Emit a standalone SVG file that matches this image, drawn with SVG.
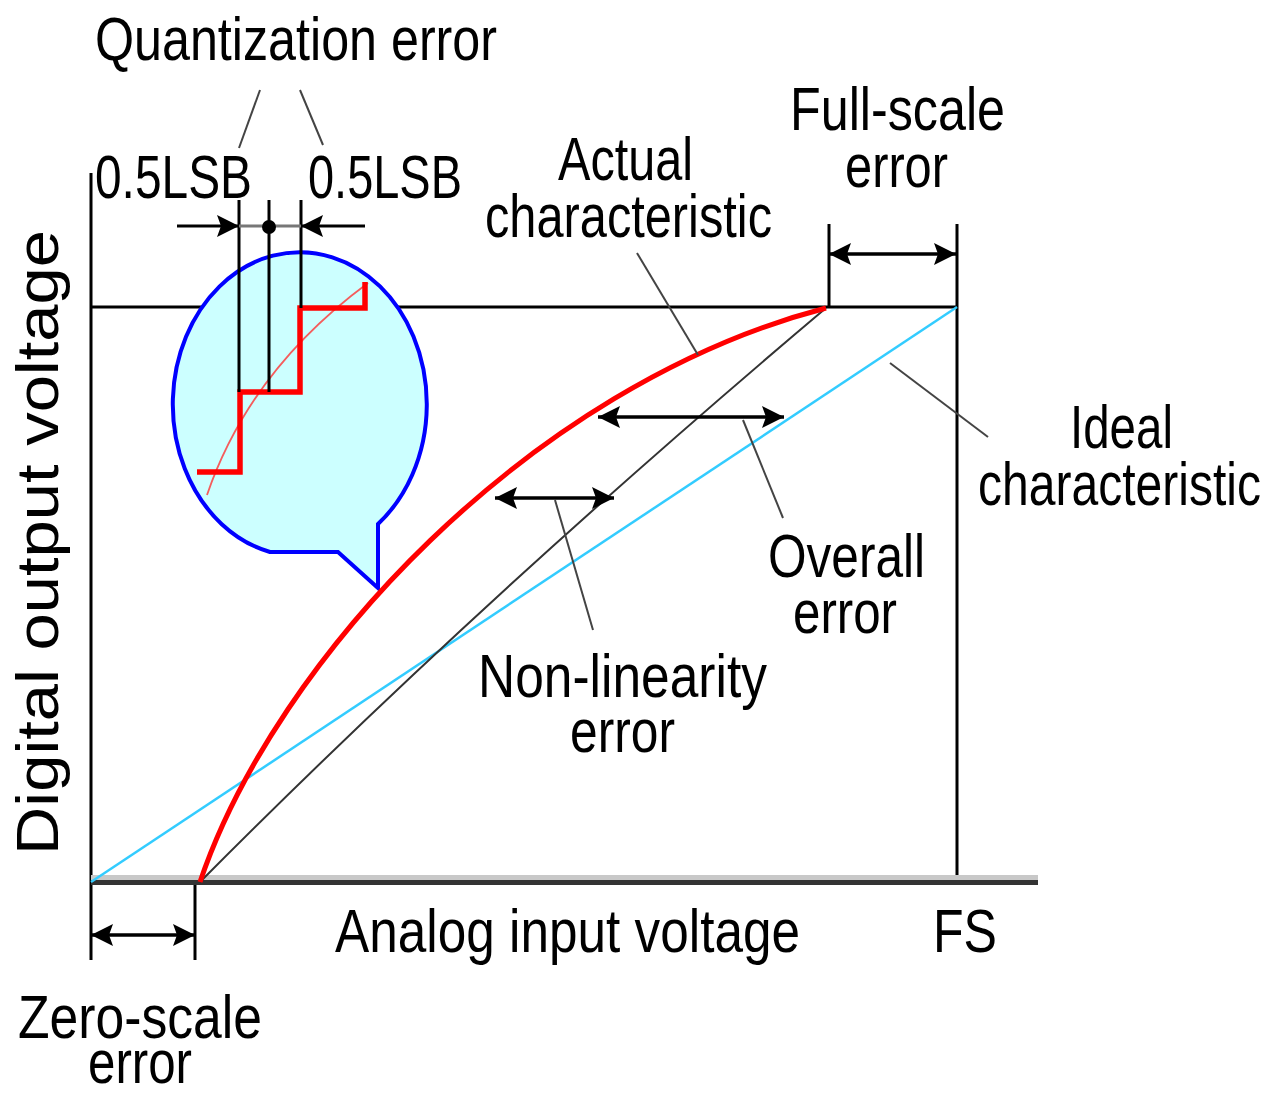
<svg xmlns="http://www.w3.org/2000/svg" width="1274" height="1096" viewBox="0 0 1274 1096">
<style>
.t{font-family:"Liberation Sans",Arial,sans-serif;font-size:62px;fill:#000}
.ax{stroke:#000;stroke-width:3;fill:none}
.ld{stroke:#444;stroke-width:2;fill:none}
.ar{stroke:#000;stroke-width:3.5;fill:none;marker-end:url(#ah);marker-start:url(#ah)}
.ar1{stroke:#000;stroke-width:3;fill:none;marker-end:url(#ah)}
</style>
<defs>
<marker id="ah" viewBox="-23 -12 24 24" refX="0" refY="0" markerWidth="24" markerHeight="24" markerUnits="userSpaceOnUse" orient="auto-start-reverse">
<path d="M0,0 L-22,-11 L-18,0 L-22,11 Z" fill="#000"/>
</marker>
</defs>
<rect width="1274" height="1096" fill="#fff"/>

<g id="axes">
<line class="ax" x1="91" y1="173" x2="91" y2="960"/>
<line class="ax" x1="91" y1="307" x2="957" y2="307"/>
<line class="ax" x1="957" y1="224" x2="957" y2="883"/>
<line class="ax" x1="829" y1="224" x2="829" y2="307"/>
<line class="ax" x1="195" y1="882" x2="195" y2="960"/>
<line x1="91" y1="877.5" x2="1038" y2="877.5" stroke="#c8c8c8" stroke-width="5"/>
<line x1="91" y1="882.5" x2="1038" y2="882.5" stroke="#333" stroke-width="5"/>
</g>

<g id="ideal-line">
<line x1="91" y1="882" x2="957" y2="307" stroke="#33ccff" stroke-width="2.5"/>
</g>
<g id="endpoint-line">
<path d="M200,882 Q480,600 826,308" stroke="#333" stroke-width="2" fill="none"/>
</g>

<g id="bubble">
<path d="M378,524 A127,152 0 1 0 270,552 L338,552 L378,588 Z" fill="#ccffff" stroke="#0000ff" stroke-width="4" stroke-linejoin="miter"/>
<path d="M207,495 Q250,370 368,283" stroke="#ff3333" stroke-width="1.8" fill="none" opacity="0.8"/>
<path d="M197,472 L240,472 L240,392 L300,392 L300,308 L365,308 L365,282" stroke="#ff0000" stroke-width="5.5" fill="none"/>
<line class="ax" x1="239" y1="200" x2="239" y2="392"/>
<line class="ax" x1="269" y1="200" x2="269" y2="392"/>
<line class="ax" x1="301" y1="200" x2="301" y2="308"/>
</g>

<g id="actual-curve">
<path d="M200,882 C275,660 530,385 826,308" stroke="#ff0000" stroke-width="5" fill="none"/>
</g>

<g id="connectors">
<line class="ld" x1="260" y1="90" x2="239" y2="148"/>
<line class="ld" x1="300" y1="90" x2="323" y2="145"/>
<line class="ld" x1="637" y1="253" x2="698" y2="355"/>
<line class="ld" x1="890" y1="363" x2="988" y2="437"/>
<line class="ld" x1="743" y1="420" x2="783" y2="518"/>
<line class="ld" x1="555" y1="500" x2="593" y2="630"/>
<line x1="239" y1="226" x2="301" y2="226" stroke="#777" stroke-width="3"/>
<circle cx="269" cy="227" r="7" fill="#000"/>
<line class="ar1" x1="177" y1="226" x2="239" y2="226"/>
<line class="ar1" x1="365" y1="226" x2="301" y2="226"/>
<line class="ar" x1="829" y1="254" x2="956" y2="254"/>
<line class="ar" x1="91" y1="935" x2="195" y2="935"/>
<line class="ar" x1="598" y1="417" x2="784" y2="417"/>
<line class="ar" x1="495" y1="498" x2="614" y2="498"/>
</g>

<g id="label-quantization"><text class="t" x="95" y="60" textLength="402" lengthAdjust="spacingAndGlyphs">Quantization error</text></g>
<g id="label-lsb-left"><text class="t" x="95" y="198" textLength="157" lengthAdjust="spacingAndGlyphs">0.5LSB</text></g>
<g id="label-lsb-right"><text class="t" x="308" y="198" textLength="154" lengthAdjust="spacingAndGlyphs">0.5LSB</text></g>
<g id="label-fullscale">
<text class="t" x="790" y="130" textLength="215" lengthAdjust="spacingAndGlyphs">Full-scale</text>
<text class="t" x="845" y="187" textLength="103" lengthAdjust="spacingAndGlyphs">error</text>
</g>
<g id="label-actual">
<text class="t" x="558" y="180" textLength="135" lengthAdjust="spacingAndGlyphs">Actual</text>
<text class="t" x="485" y="237" textLength="287" lengthAdjust="spacingAndGlyphs">characteristic</text>
</g>
<g id="label-ideal">
<text class="t" x="1070" y="448" textLength="103" lengthAdjust="spacingAndGlyphs">Ideal</text>
<text class="t" x="978" y="505" textLength="283" lengthAdjust="spacingAndGlyphs">characteristic</text>
</g>
<g id="label-overall">
<text class="t" x="768" y="577" textLength="157" lengthAdjust="spacingAndGlyphs">Overall</text>
<text class="t" x="793" y="633" textLength="104" lengthAdjust="spacingAndGlyphs">error</text>
</g>
<g id="label-nonlinearity">
<text class="t" x="478" y="697" textLength="289" lengthAdjust="spacingAndGlyphs">Non-linearity</text>
<text class="t" x="570" y="752" textLength="105" lengthAdjust="spacingAndGlyphs">error</text>
</g>
<g id="label-x-axis"><text class="t" x="335" y="952" textLength="465" lengthAdjust="spacingAndGlyphs">Analog input voltage</text></g>
<g id="label-fs"><text class="t" x="933" y="952" textLength="64" lengthAdjust="spacingAndGlyphs">FS</text></g>
<g id="label-zeroscale">
<text class="t" x="18" y="1038" textLength="244" lengthAdjust="spacingAndGlyphs">Zero-scale</text>
<text class="t" x="88" y="1083" textLength="104" lengthAdjust="spacingAndGlyphs">error</text>
</g>
<g id="label-y-axis"><text class="t" transform="translate(58,855) rotate(-90)" x="0" y="0" textLength="625" lengthAdjust="spacingAndGlyphs" style="font-size:60px">Digital output voltage</text></g>
</svg>
